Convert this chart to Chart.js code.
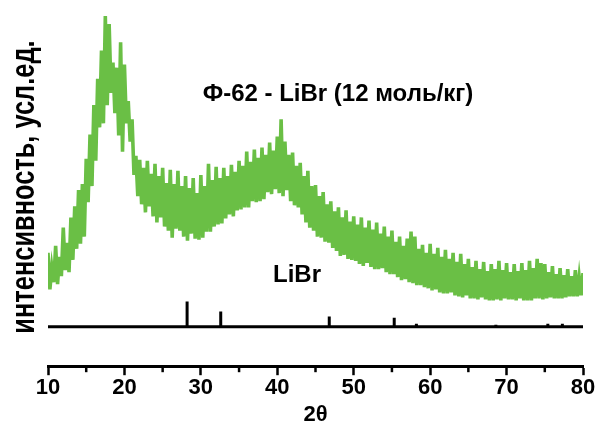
<!DOCTYPE html>
<html>
<head>
<meta charset="utf-8">
<script src="https://cdn.jsdelivr.net/npm/chart.js@4"></script>
<style>
  body { margin: 0; background: #fff; }
  #wrap { width: 596px; height: 432px; }
</style>
</head>
<body>
<div id="wrap"><canvas id="xrd"></canvas></div>
<script>
// scan grid: 10..80 deg, step 0.25
const scanStart = 10;
const scanStep = 0.25;
// intensity (arb. units), 4 points per degree
const intensity = [
  112, 76, 98, 83,    119, 81, 108, 89,   137, 95, 122, 93,   147, 105, 158, 116,
  174, 121, 180, 128, 205, 162, 229, 178, 258, 203, 284, 236, 312, 240, 346, 258,
  338, 270, 300, 250, 295, 228, 320, 212, 298, 240, 262, 222, 244, 189, 208, 168,
  204, 160, 196, 152, 203, 158, 190, 148, 200, 142, 188, 147, 196, 138, 181, 134,
  194, 127, 180, 136, 193, 134, 178, 128, 188, 124, 176, 131, 186, 126, 171, 125,
  189, 127, 178, 133, 200, 133, 184, 138, 197, 140, 186, 141, 196, 146, 188, 150,
  199, 148, 192, 154, 203, 155, 198, 157, 212, 157, 202, 163, 214, 162, 206, 163,
  216, 165, 209, 172, 221, 170, 213, 175, 227, 171, 244, 168, 222, 174, 209, 163,
  211, 159, 198, 157, 201, 150, 188, 142, 193, 137, 178, 134, 179, 128, 168, 127,
  172, 123, 160, 122, 163, 117, 153, 114, 157, 109, 147, 110, 154, 106, 143, 105,
  148, 104, 140, 101, 147, 99, 137, 102,  144, 98, 135, 96,   142, 96, 131, 97,
  138, 93, 128, 91,   134, 91, 123, 88,   128, 85, 119, 86,   126, 83, 133, 82,
  128, 80, 116, 80,   120, 78, 112, 77,   121, 75, 111, 76,   117, 73, 108, 72,
  115, 72, 106, 73,   112, 70, 103, 69,   111, 68, 101, 70,   106, 67, 98, 67,
  104, 66, 96, 68,    103, 66, 94, 65,    101, 65, 96, 66,    104, 65, 95, 67,
  102, 66, 93, 66,    101, 65, 94, 67,    102, 65, 95, 65,    104, 65, 97, 67,
  106, 67, 102, 66,   101, 67, 93, 68,    99, 67, 91, 67,     97, 67, 90, 68,
  96, 69, 89, 69,     95, 69, 88, 70,     92
];

// LiBr reference lines
const stickPos = [28.2, 32.6, 46.8, 55.3, 58.2, 68.6, 75.4, 77.3];
const stickTop = [64, 54, 49, 48, 42, 41, 42, 42];
const stickBase = 39;

const xTicks = [10, 20, 30, 40, 50, 60, 70, 80];
const xMinor = [15, 25, 35, 45, 55, 65, 75];

const scan = intensity.map((v, i) => ({ x: scanStart + i * scanStep, y: v }));

const sticks = [{ x: 10, y: stickBase }, { x: 80, y: stickBase }, { x: 80, y: null }];
stickPos.forEach((p, i) => {
  sticks.push({ x: p, y: stickBase }, { x: p, y: stickTop[i] }, { x: p, y: null });
});

const labelsPlugin = {
  id: 'labels',
  afterDraw(chart) {
    const ctx = chart.ctx;
    const xs = chart.scales.x;
    const bottom = chart.chartArea.bottom;
    ctx.save();
    // minor ticks
    ctx.strokeStyle = '#000';
    ctx.lineWidth = 2.5;
    xMinor.forEach(v => {
      const px = xs.getPixelForValue(v);
      ctx.beginPath();
      ctx.moveTo(px, bottom);
      ctx.lineTo(px, bottom + 6);
      ctx.stroke();
    });
    ctx.fillStyle = '#000';
    ctx.textAlign = 'center';
    ctx.textBaseline = 'middle';
    ctx.font = 'bold 24px "Liberation Sans", Arial, sans-serif';
    ctx.fillText('Ф-62 - LiBr (12 моль/кг)', 338, 94);
    ctx.fillText('LiBr', 297, 275);
    // y title, slightly narrow lettering
    ctx.translate(34, 187);
    ctx.rotate(-Math.PI / 2);
    ctx.scale(0.77, 1);
    ctx.textBaseline = 'alphabetic';
    ctx.font = 'bold 33px "Liberation Sans", Arial, sans-serif';
    ctx.fillText('интенсивность, усл.ед.', 0, 0);
    ctx.restore();
  }
};

new Chart(document.getElementById('xrd'), {
  type: 'line',
  data: {
    datasets: [
      {
        label: 'Ф-62 - LiBr',
        data: scan,
        borderColor: '#6abf45',
        borderWidth: 3.6,
        pointRadius: 0,
        tension: 0
      },
      {
        label: 'LiBr',
        data: sticks,
        borderColor: '#000',
        borderWidth: 3,
        pointRadius: 0,
        spanGaps: false,
        tension: 0
      }
    ]
  },
  options: {
    responsive: true,
    maintainAspectRatio: false,
    animation: false,
    layout: { padding: { left: 48, right: 13, top: 10, bottom: 4 } },
    plugins: { legend: { display: false }, tooltip: { enabled: false } },
    scales: {
      x: {
        type: 'linear',
        min: 10,
        max: 80,
        afterBuildTicks: axis => { axis.ticks = xTicks.map(v => ({ value: v })); },
        ticks: {
          color: '#000',
          padding: 0,
          font: { family: '"Liberation Sans", Arial, sans-serif', size: 22, weight: 'bold' }
        },
        grid: { drawOnChartArea: false, tickLength: 9, tickWidth: 2.5, tickColor: '#000' },
        border: { color: '#000', width: 3 },
        title: {
          display: true,
          text: '2θ',
          color: '#000',
          padding: { top: 0, bottom: 0 },
          font: { family: '"Liberation Sans", Arial, sans-serif', size: 22, weight: 'bold' }
        }
      },
      y: { display: false, min: 0, max: 352 }
    }
  },
  plugins: [labelsPlugin]
});
</script>
</body>
</html>
